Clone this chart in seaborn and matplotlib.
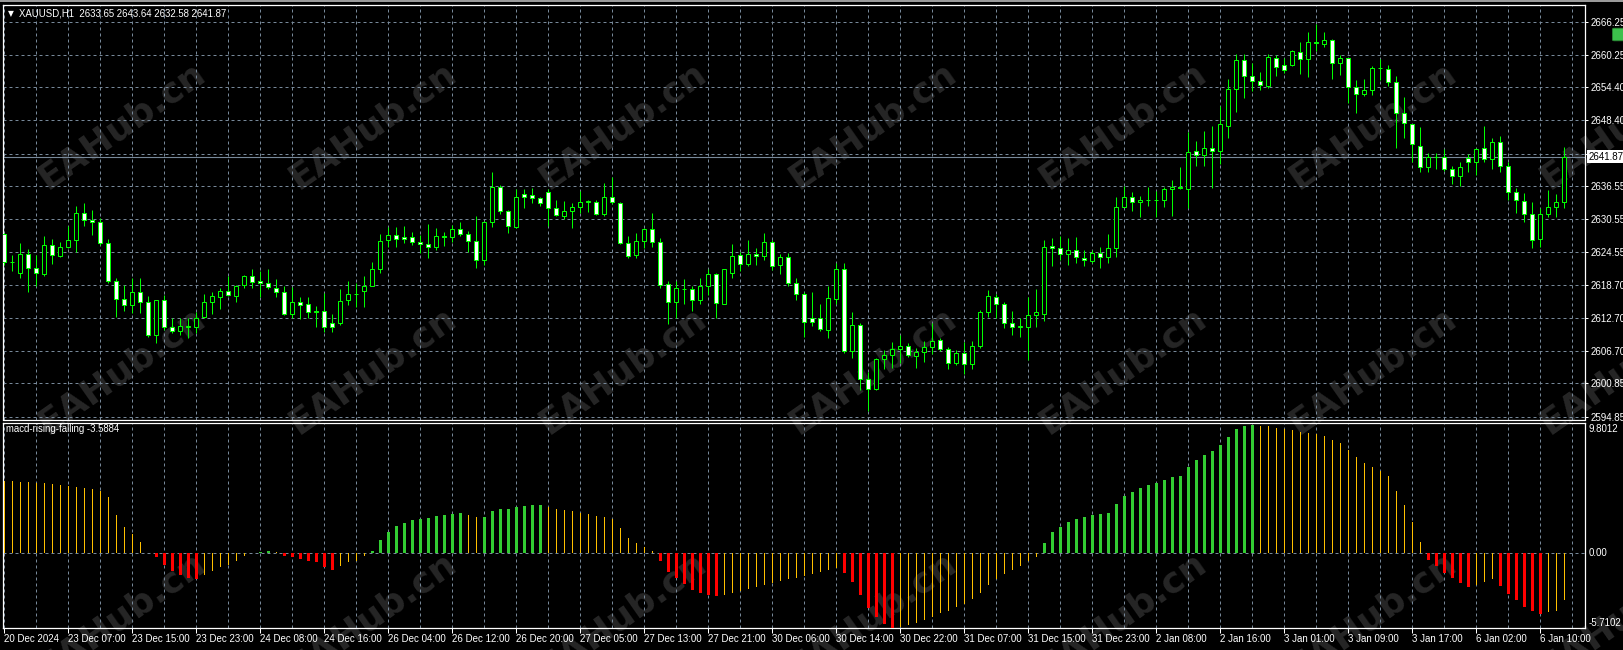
import numpy as np
import pandas as pd
import matplotlib
matplotlib.use("Agg")
import matplotlib.pyplot as plt
import seaborn as sns
from matplotlib.patches import FancyBboxPatch, Rectangle

# ---------------- data ----------------
symbol = "XAUUSD,H1"
indicator_name = "macd-rising-falling"

opens = [
    2627.8, 2622.8, 2620.8, 2624.2, 2621.7, 2620.6, 2625.8, 2623.9, 2625.5, 2626.8,
    2631.6, 2630.4, 2630.0, 2626.2, 2619.3, 2616.2, 2615.0, 2617.45, 2615.6, 2609.7,
    2615.9, 2611.1, 2610.4, 2611.1, 2611.0, 2612.9, 2615.5, 2616.55, 2617.6, 2616.7,
    2618.66, 2620.3, 2619.3, 2619.0, 2618.2, 2617.3, 2613.4, 2615.5, 2615.16, 2614.0,
    2614.0, 2611.73, 2611.7, 2615.9, 2616.95, 2617.63, 2618.5, 2621.5, 2626.7, 2627.7,
    2627.27, 2627.3, 2626.4, 2626.0, 2625.5, 2627.5, 2627.3, 2628.7, 2627.8, 2626.6,
    2623.2, 2630.0, 2636.4, 2632.0, 2629.2, 2635.04, 2635.0, 2634.3, 2635.53, 2632.5,
    2631.2, 2632.1, 2632.8, 2633.7, 2633.6, 2631.4, 2634.5, 2633.4, 2626.2, 2624.0,
    2626.6, 2628.7, 2626.4, 2618.8, 2615.6, 2617.9, 2617.9, 2615.9, 2618.5, 2620.6,
    2615.3, 2620.9, 2624.0, 2622.4, 2624.2, 2623.9, 2626.4, 2622.2, 2623.7, 2619.1,
    2617.0, 2612.6, 2612.6, 2610.6, 2616.2, 2621.5, 2606.7, 2611.5, 2601.6, 2599.9,
    2605.2, 2606.0, 2607.0, 2607.7, 2605.8, 2606.5, 2607.5, 2608.8, 2607.0, 2604.5,
    2606.3, 2604.3, 2607.7, 2613.7, 2616.4, 2615.2, 2611.7, 2611.1, 2611.1, 2613.2,
    2613.5, 2625.7, 2625.3, 2624.3, 2625.0, 2623.5, 2623.05, 2624.5, 2623.8, 2625.3,
    2632.8, 2634.6, 2633.6, 2634.0, 2634.0, 2634.1, 2636.0, 2636.4, 2635.95, 2642.8,
    2642.15, 2643.4, 2642.8, 2647.46, 2654.0, 2659.3, 2656.5, 2655.5, 2654.7, 2659.6,
    2658.4, 2658.5, 2660.8, 2659.45, 2662.5, 2662.3, 2662.9, 2658.7, 2659.6, 2654.4,
    2653.1, 2653.9, 2657.8, 2657.7, 2655.3, 2649.8, 2647.7, 2643.8, 2639.9, 2641.85,
    2641.85, 2639.56, 2638.36, 2641.55, 2640.95, 2643.36, 2641.37, 2644.44, 2640.17, 2635.41,
    2633.9, 2631.43, 2626.9, 2631.43, 2632.7, 2633.65,
]
highs = [
    2628.0, 2624.1, 2626.2, 2625.1, 2624.1, 2627.5, 2626.9, 2626.4, 2629.3, 2632.9,
    2633.4, 2632.2, 2630.7, 2627.0, 2620.0, 2618.7, 2620.0, 2619.9, 2616.7, 2616.0,
    2616.9, 2612.6, 2612.6, 2612.6, 2613.7, 2617.0, 2617.45, 2618.05, 2620.3, 2618.6,
    2620.5, 2621.55, 2621.1, 2621.55, 2619.7, 2618.5, 2618.24, 2616.4, 2616.4, 2614.9,
    2617.15, 2613.5, 2617.9, 2619.4, 2619.0, 2620.3, 2622.9, 2627.8, 2629.2, 2629.1,
    2629.3, 2628.2, 2627.7, 2629.7, 2628.9, 2628.2, 2629.5, 2630.0, 2628.4, 2631.1,
    2630.2, 2639.0, 2636.7, 2632.2, 2635.95, 2635.95, 2636.1, 2634.5, 2635.95, 2634.0,
    2633.8, 2633.5, 2635.65, 2634.1, 2634.1, 2637.15, 2638.2, 2633.6, 2627.6, 2628.1,
    2628.9, 2631.6, 2627.1, 2619.4, 2619.4, 2619.7, 2618.4, 2620.0, 2621.5, 2620.9,
    2621.5, 2626.0, 2624.7, 2626.8, 2625.3, 2628.1, 2626.7, 2624.3, 2624.5, 2619.9,
    2617.45, 2617.3, 2615.3, 2618.5, 2622.6, 2622.6, 2613.7, 2611.7, 2603.0, 2605.5,
    2606.9, 2608.4, 2609.6, 2608.1, 2607.2, 2608.5, 2611.7, 2609.0, 2607.5, 2606.9,
    2608.3, 2608.6, 2614.1, 2617.75, 2617.0, 2615.5, 2614.0, 2612.6, 2616.4, 2617.9,
    2626.7, 2627.2, 2627.6, 2627.2, 2627.3, 2625.0, 2625.0, 2625.6, 2627.9, 2634.5,
    2636.55, 2635.4, 2634.75, 2636.3, 2635.65, 2636.4, 2637.6, 2639.9, 2646.4, 2644.7,
    2646.5, 2647.4, 2651.0, 2655.9, 2660.4, 2660.5, 2658.7, 2657.1, 2660.5, 2660.2,
    2659.6, 2661.1, 2662.6, 2664.3, 2665.8, 2664.3, 2663.1, 2660.2, 2659.7, 2655.8,
    2655.9, 2658.2, 2659.45, 2658.4, 2656.4, 2652.6, 2647.8, 2647.15, 2642.6, 2642.6,
    2643.2, 2640.2, 2640.8, 2642.3, 2643.4, 2647.4, 2645.3, 2645.5, 2640.95, 2636.1,
    2635.2, 2633.7, 2632.5, 2635.8, 2635.1, 2643.64,
]
lows = [
    2622.3, 2621.2, 2619.9, 2617.3, 2618.5, 2620.3, 2622.4, 2623.7, 2625.3, 2624.6,
    2629.4, 2627.7, 2625.9, 2619.0, 2612.9, 2614.0, 2613.65, 2613.65, 2609.3, 2608.1,
    2610.5, 2609.9, 2609.6, 2609.0, 2609.9, 2612.6, 2613.35, 2614.4, 2616.7, 2615.6,
    2618.2, 2618.2, 2616.4, 2617.9, 2616.55, 2613.2, 2612.6, 2612.45, 2612.6, 2611.1,
    2610.1, 2610.1, 2611.4, 2615.0, 2614.7, 2614.6, 2618.5, 2620.8, 2625.6, 2625.6,
    2626.3, 2625.9, 2624.4, 2623.6, 2624.9, 2625.7, 2626.5, 2627.6, 2624.6, 2621.7,
    2622.3, 2629.1, 2631.5, 2628.0, 2628.9, 2632.5, 2633.5, 2633.0, 2629.4, 2631.1,
    2630.6, 2628.9, 2631.6, 2631.8, 2631.3, 2631.1, 2633.3, 2626.0, 2623.6, 2623.5,
    2625.3, 2625.6, 2618.05, 2611.55, 2612.6, 2615.3, 2614.0, 2615.2, 2616.85, 2612.6,
    2615.3, 2619.9, 2621.25, 2622.0, 2622.3, 2623.2, 2621.4, 2620.6, 2618.5, 2615.9,
    2609.2, 2611.3, 2610.3, 2609.0, 2615.2, 2606.3, 2605.4, 2599.6, 2595.9, 2599.7,
    2603.4, 2603.6, 2604.6, 2605.7, 2603.7, 2604.8, 2606.2, 2606.8, 2603.4, 2604.2,
    2602.5, 2603.4, 2607.2, 2612.8, 2612.6, 2610.8, 2609.7, 2609.2, 2605.1, 2611.1,
    2612.2, 2622.15, 2623.1, 2622.3, 2622.7, 2622.0, 2622.6, 2621.7, 2622.6, 2623.8,
    2632.7, 2632.1, 2631.0, 2633.0, 2631.0, 2632.8, 2631.2, 2635.95, 2632.6, 2640.2,
    2640.2, 2636.1, 2640.5, 2645.2, 2650.0, 2652.5, 2653.8, 2653.9, 2654.2, 2656.5,
    2656.9, 2658.3, 2656.8, 2656.3, 2661.0, 2661.7, 2655.9, 2656.6, 2651.6, 2649.8,
    2652.9, 2653.0, 2655.8, 2654.7, 2643.5, 2645.2, 2640.8, 2639.0, 2639.1, 2639.7,
    2639.3, 2636.9, 2636.6, 2639.0, 2638.5, 2640.8, 2639.7, 2639.1, 2634.1, 2631.6,
    2630.1, 2625.3, 2625.5, 2631.0, 2631.0, 2632.58,
]
closes = [
    2622.8, 2622.9, 2624.2, 2621.7, 2620.8, 2625.8, 2624.1, 2625.5, 2626.8, 2631.6,
    2630.4, 2630.0, 2626.2, 2619.3, 2616.2, 2615.0, 2617.3, 2615.6, 2609.7, 2615.9,
    2611.1, 2610.4, 2611.25, 2611.2, 2612.6, 2615.5, 2616.67, 2617.57, 2616.85, 2618.54,
    2620.28, 2619.26, 2618.96, 2618.24, 2617.33, 2613.41, 2615.52, 2615.04, 2613.71, 2613.71,
    2611.0, 2611.0, 2615.82, 2616.97, 2617.0, 2618.54, 2621.49, 2626.67, 2627.69, 2626.97,
    2626.91, 2626.37, 2626.01, 2625.47, 2627.51, 2627.4, 2628.72, 2627.81, 2626.61, 2623.18,
    2629.98, 2636.43, 2632.09, 2629.32, 2634.62, 2634.62, 2634.32, 2633.42, 2632.52, 2631.31,
    2632.09, 2632.82, 2633.72, 2633.8, 2631.43, 2634.5, 2633.6, 2626.19, 2623.96, 2626.61,
    2628.72, 2626.37, 2618.66, 2615.64, 2618.05, 2618.0, 2615.94, 2618.48, 2620.58, 2615.34,
    2621.49, 2623.96, 2622.39, 2624.2, 2623.9, 2626.49, 2622.15, 2623.66, 2618.96, 2616.97,
    2611.91, 2611.9, 2610.64, 2616.24, 2621.49, 2606.73, 2611.43, 2601.61, 2599.86, 2605.22,
    2606.0, 2607.03, 2607.69, 2606.0, 2606.6, 2607.51, 2608.59, 2607.0, 2604.5, 2606.42,
    2604.3, 2607.7, 2613.71, 2616.67, 2615.22, 2611.73, 2611.0, 2611.2, 2613.23, 2613.71,
    2625.59, 2625.29, 2624.26, 2624.98, 2623.66, 2623.1, 2624.38, 2623.66, 2625.29, 2632.82,
    2634.62, 2633.6, 2634.0, 2634.05, 2634.1, 2635.95, 2636.43, 2636.13, 2642.76, 2642.15,
    2643.36, 2642.9, 2647.76, 2654.02, 2659.33, 2656.49, 2655.53, 2654.81, 2659.81, 2658.0,
    2657.6, 2660.95, 2659.45, 2662.52, 2662.45, 2662.94, 2658.72, 2659.6, 2654.38, 2653.12,
    2653.9, 2657.82, 2657.85, 2655.29, 2649.8, 2647.88, 2644.08, 2639.92, 2641.85, 2641.8,
    2639.56, 2638.36, 2639.92, 2640.95, 2643.18, 2641.37, 2644.44, 2640.17, 2635.41, 2634.02,
    2631.49, 2626.79, 2631.43, 2632.82, 2633.6, 2641.87,
]
macd = [
    5.55, 5.52, 5.48, 5.44, 5.4, 5.35, 5.3, 5.25, 5.18, 5.1,
    5.0, 4.9, 4.75, 4.3, 2.9, 2.0, 1.45, 0.86, 0.05, -0.3,
    -0.87, -1.37, -1.65, -1.87, -2.0, -1.65, -1.37, -1.07, -0.89, -0.56,
    -0.2, 0.04, 0.12, 0.19, 0.09, -0.2, -0.3, -0.4, -0.6, -0.7,
    -1.07, -1.24, -1.0, -0.7, -0.56, -0.2, 0.19, 1.02, 1.62, 2.07,
    2.35, 2.55, 2.65, 2.72, 2.85, 2.92, 3.0, 3.05, 2.95, 2.75,
    2.8, 3.2, 3.35, 3.4, 3.55, 3.62, 3.66, 3.68, 3.55, 3.4,
    3.3, 3.2, 3.1, 3.0, 2.85, 2.75, 2.6, 1.9, 1.2, 0.8,
    0.45, 0.2, -0.6, -1.4, -1.9, -2.35, -2.8, -3.0, -3.15, -3.3,
    -3.2, -3.05, -2.9, -2.75, -2.6, -2.45, -2.3, -2.15, -2.0, -1.85,
    -1.7, -1.55, -1.4, -1.25, -1.1, -1.5, -2.2, -3.2, -4.2, -4.9,
    -5.4, -5.71, -5.6, -5.45, -5.3, -5.1, -4.85, -4.6, -4.4, -4.1,
    -3.85, -3.5, -3.0, -2.4, -1.95, -1.6, -1.3, -1.0, -0.6, -0.25,
    0.8, 1.6, 2.0, 2.4, 2.6, 2.75, 2.9, 3.0, 3.1, 3.8,
    4.4, 4.7, 5.0, 5.2, 5.4, 5.6, 5.8, 5.9, 6.6, 7.1,
    7.5, 7.8, 8.3, 8.9, 9.5, 9.7, 9.8012, 9.75, 9.7, 9.6,
    9.5, 9.4, 9.25, 9.2, 9.1, 9.0, 8.7, 8.45, 7.9, 7.4,
    6.9, 6.6, 6.3, 5.9, 4.8, 3.7, 2.4, 0.9, -0.5, -1.0,
    -1.5, -1.9, -2.3, -2.55, -2.4, -2.2, -2.0, -2.5, -3.1, -3.6,
    -4.1, -4.4, -4.63, -4.46, -4.38, -3.5884,
]
time_labels = [
    "20 Dec 2024", "23 Dec 07:00", "23 Dec 15:00", "23 Dec 23:00", "24 Dec 08:00",
    "24 Dec 16:00", "26 Dec 04:00", "26 Dec 12:00", "26 Dec 20:00", "27 Dec 05:00",
    "27 Dec 13:00", "27 Dec 21:00", "30 Dec 06:00", "30 Dec 14:00", "30 Dec 22:00",
    "31 Dec 07:00", "31 Dec 15:00", "31 Dec 23:00", "2 Jan 08:00", "2 Jan 16:00",
    "3 Jan 01:00", "3 Jan 09:00", "3 Jan 17:00", "6 Jan 02:00", "6 Jan 10:00",
]
price_levels = [2666.25, 2660.25, 2654.40, 2648.40, 2642.40, 2636.55, 2630.55,
                2624.55, 2618.70, 2612.70, 2606.70, 2600.85, 2594.85]
ind_max = 9.8012
ind_min = -5.7102

# ---------------- style ----------------
sns.set_theme(style="dark")
plt.rcParams.update({
    "font.family": ["Liberation Sans", "DejaVu Sans"],
    "axes.facecolor": "none",
    "figure.facecolor": "black",
    "savefig.facecolor": "black",
    "axes.edgecolor": "white",
    "axes.linewidth": 0.72,
})

W, H = 1624, 650
fig = plt.figure(figsize=(W / 100, H / 100), dpi=100)


def fx(px):
    return px / W


def fy(py):
    return 1 - py / H


LEFT, RIGHT = 3.3, 1585.0
ax1 = fig.add_axes([fx(LEFT), fy(419.5), (RIGHT - LEFT) / W, (419.5 - 5) / H])
ax2 = fig.add_axes([fx(LEFT), fy(628), (RIGHT - LEFT) / W, (628 - 422.5) / H])

n = min(len(opens), len(highs), len(lows), len(closes), len(macd))
idx = np.arange(n)
o = np.array(opens[:n]); h = np.array(highs[:n]); l = np.array(lows[:n]); c = np.array(closes[:n])

GRID = "#778899"
LIME = "#00ff00"

# watermark (behind everything)
for ry in (125, 370, 615):
    for k in range(7):
        fig.text(fx(122 + 250.2 * k), fy(ry), "EAHub.cn", rotation=35,
                 rotation_mode="anchor", ha="center", va="center",
                 fontsize=26, fontweight="bold", color="#262626",
                 family="DejaVu Sans", zorder=-5)

# ---------------- candlesticks ----------------
ax1.vlines(idx, l, h, color=LIME, linewidth=0.72, zorder=3)
bear = c < o
body_low = np.minimum(o, c)
body_h = np.maximum(np.abs(c - o), 0.02)
ax1.bar(idx, body_h, bottom=body_low, width=0.5,
        color=np.where(bear, "white", "black"), edgecolor=LIME,
        linewidth=0.72, zorder=4)

last_price = closes[n - 1]
ax1.axhline(last_price, color=GRID, linewidth=0.8, zorder=2)

xmin = (LEFT - 4.33) / 8
xmax = (RIGHT - 4.33) / 8
ax1.set_xlim(xmin, xmax)
ax1.set_ylim(2594.34, 2669.27)

# ---------------- histogram (seaborn) ----------------
hist = np.array(macd[:n])
prev = np.r_[hist[0] + 1, hist[:-1]]
state = np.where((hist >= 0) & (hist > prev), "up",
                 np.where((hist < 0) & (hist < prev), "down", "flat"))
df = pd.DataFrame({"bar": idx, "value": hist, "state": state})
for st, col, wpx in [("flat", "#ffc000", 1.0), ("up", "#32cd32", 3.0), ("down", "#ff0000", 3.0)]:
    sub = df[df["state"] == st]
    if len(sub) == 0:
        continue
    sns.barplot(data=sub, x="bar", y="value", native_scale=True, orient="x",
                color=col, saturation=1, width=wpx / 8, errorbar=None,
                linewidth=0, ax=ax2, zorder=3)
ax2.axhline(0, color=GRID, linewidth=0.72, linestyle=(0, (3, 3)), zorder=1)
ax2.set_xlim(xmin, xmax)
ax2.set_ylim(ind_min, 10.0)
ax2.set_xlabel("")
ax2.set_ylabel("")

# ---------------- grid / ticks ----------------
major = np.arange(0, 8 * len(time_labels), 8)
minor = np.arange(4, 200, 8)
for ax in (ax1, ax2):
    ax.set_xticks(major)
    ax.set_xticks(minor, minor=True)
    ax.grid(True, axis="x", which="both", color=GRID, linewidth=0.72,
            linestyle=(0, (3, 3)), zorder=1)
    for sp in ax.spines.values():
        sp.set_color("white")
        sp.set_linewidth(0.9)
        sp.set_visible(True)
    ax.set_axisbelow(True)

ax1.set_yticks(price_levels)
ax1.set_yticklabels([("" if abs(p - 2642.40) < 1e-6 else f"{p:.2f}") for p in price_levels])
ax1.yaxis.tick_right()
ax1.grid(True, axis="y", color=GRID, linewidth=0.72, linestyle=(0, (3, 3)), zorder=1)
ax1.tick_params(axis="y", which="both", right=True, left=False, length=2.2, width=0.72,
                color="white", labelcolor="white", labelsize=7, pad=1.6)
ax1.tick_params(axis="x", which="both", length=0, labelbottom=False, bottom=False)

ax2.set_xticklabels(time_labels, ha="left")
ax2.tick_params(axis="x", which="major", length=3.6, width=0.72, color="white",
                labelcolor="white", labelsize=7, pad=0.8, bottom=True)
ax2.tick_params(axis="x", which="minor", length=0)
ax2.set_yticks([])
ax2.grid(False, axis="y")

# ---------------- texts ----------------
fig.text(fx(8), fy(13.5), "\u25bc", color="white", fontsize=5.5, family="DejaVu Sans",
         ha="left", va="center")
title = f"{symbol}  {opens[n-1]:.2f} {highs[n-1]:.2f} {lows[n-1]:.2f} {closes[n-1]:.2f}"
fig.text(fx(19), fy(13.5), title, color="white", fontsize=6.9, ha="left", va="center")
fig.text(fx(6), fy(429.5), f"{indicator_name} {macd[n-1]:.4f}", color="white",
         fontsize=6.9, ha="left", va="center")

fig.text(fx(1588.5), fy(156.7), f"{last_price:.2f}", color="black", fontsize=7,
         ha="left", va="center",
         bbox=dict(boxstyle="square,pad=0.18", facecolor="white", edgecolor="none"))

fig.text(fx(1589), fy(429.5), f"{ind_max:.4f}", color="white", fontsize=7, ha="left", va="center")
fig.text(fx(1589), fy(553.3), "0.00", color="white", fontsize=7, ha="left", va="center")
fig.text(fx(1589), fy(622.5), f"{ind_min:.4f}", color="white", fontsize=7, ha="left", va="center")

# window chrome: top frame line and the small green widget
fig.patches.append(Rectangle((0, fy(1.6)), 1, 1.6 / H, transform=fig.transFigure,
                             facecolor="#9a9a9a", edgecolor="none", zorder=1))
fig.patches.append(FancyBboxPatch((fx(1614.5), fy(40)), 8 / W, 11 / H,
                                  boxstyle="round,pad=0.0012", transform=fig.transFigure,
                                  facecolor="#3cc04c", edgecolor="#2a8a36", linewidth=0.6,
                                  zorder=6))

fig.savefig("out.png", dpi=100, facecolor="black")
